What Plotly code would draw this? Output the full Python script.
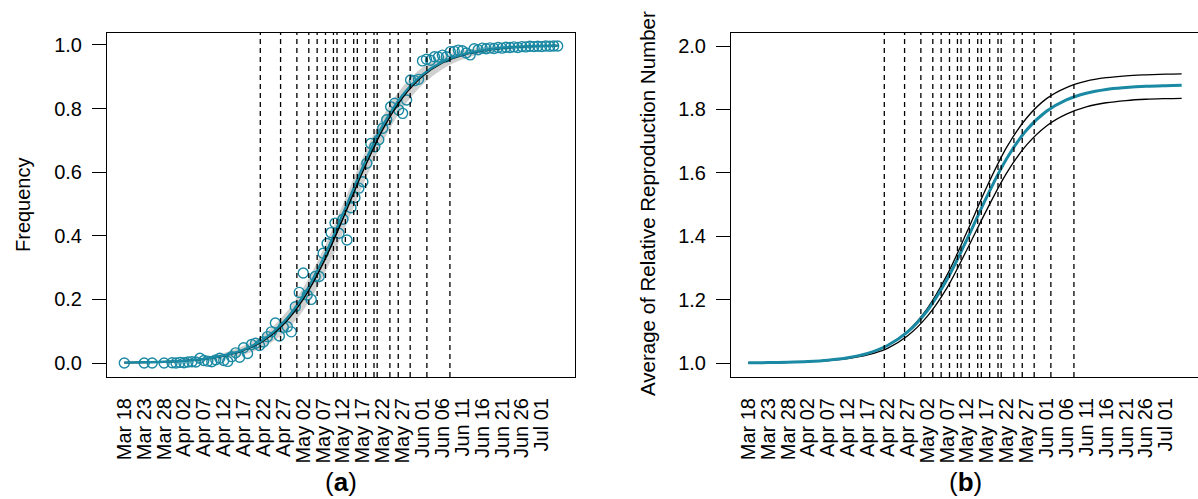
import plotly.graph_objects as go

W, H = 1198, 499
TEAL = "#1a89a3"

# ---- data (days since Mar 18) ----
tick_days = [0, 5, 10, 15, 20, 25, 30, 35, 40, 45, 50, 55, 60, 65, 70, 75, 80, 85, 90, 95, 100, 105]
tick_labels = ["Mar 18", "Mar 23", "Mar 28", "Apr 02", "Apr 07", "Apr 12", "Apr 17", "Apr 22",
               "Apr 27", "May 02", "May 07", "May 12", "May 17", "May 22", "May 27", "Jun 01",
               "Jun 06", "Jun 11", "Jun 16", "Jun 21", "Jun 26", "Jul 01"]

vline_days = [34.2, 39.3, 43.4, 46.4, 48.5, 50.6, 52.6, 53.5, 55.6, 57.7, 58.6, 60.7,
              62.8, 63.6, 66.8, 68.9, 71.9, 76.1, 81.9]

obs_days = [0, 5, 7, 10] + list(range(12, 110))
obs_freq = [0.000, 0.000, 0.000, 0.000,
            0.001, 0.000, 0.002, 0.001, 0.003, 0.004, 0.003, 0.015, 0.008, 0.006,
            0.004, 0.010, 0.015, 0.008, 0.005, 0.020, 0.032, 0.018, 0.048, 0.030,
            0.058, 0.062, 0.055, 0.066, 0.083, 0.098, 0.126, 0.085, 0.112, 0.114,
            0.098, 0.177, 0.222, 0.283, 0.214, 0.200, 0.272, 0.272, 0.345, 0.376,
            0.410, 0.440, 0.408, 0.452, 0.387, 0.488, 0.520, 0.550, 0.570, 0.628,
            0.690, 0.680, 0.702, 0.738, 0.765, 0.806, 0.817, 0.796, 0.785, 0.827,
            0.890, 0.888, 0.892, 0.950, 0.955, 0.952, 0.963, 0.962, 0.968, 0.963,
            0.979, 0.980, 0.984, 0.982, 0.975, 0.969, 0.988, 0.985, 0.990, 0.988,
            0.991, 0.989, 0.992, 0.990, 0.993, 0.992, 0.994, 0.992, 0.995, 0.994,
            0.996, 0.995, 0.996, 0.995, 0.997, 0.996, 0.997, 0.997]

curve_days = [0, 5, 10, 15, 20, 25, 30, 35, 40, 45, 50, 55, 60, 65, 70, 75, 80, 85, 90, 95, 100, 105, 109]
fit_black = [0.0011, 0.0021, 0.0038, 0.0068, 0.0124, 0.0223, 0.040, 0.070, 0.121, 0.201, 0.314, 0.455,
             0.603, 0.735, 0.835, 0.902, 0.944, 0.968, 0.982, 0.990, 0.9946, 0.997, 0.998]
fit_teal = [0.0012, 0.0022, 0.0040, 0.0072, 0.0131, 0.0236, 0.042, 0.074, 0.128, 0.211, 0.328, 0.470,
            0.617, 0.747, 0.843, 0.907, 0.947, 0.970, 0.983, 0.991, 0.995, 0.997, 0.998]
band_lo = [0.0001, 0.0001, 0.0008, 0.0028, 0.0064, 0.0133, 0.026, 0.050, 0.093, 0.165, 0.272, 0.410,
           0.559, 0.695, 0.801, 0.875, 0.924, 0.954, 0.973, 0.984, 0.9906, 0.994, 0.996]
band_hi = [0.0021, 0.0041, 0.0068, 0.0108, 0.0184, 0.0313, 0.054, 0.090, 0.149, 0.237, 0.356, 0.500,
           0.647, 0.775, 0.869, 0.929, 0.964, 0.982, 0.991, 0.996, 0.9986, 1.000, 1.000]

r_mean = [1.0008, 1.0014, 1.0026, 1.0049, 1.0090, 1.0167, 1.0306, 1.0553, 1.0973, 1.165, 1.264, 1.390,
          1.525, 1.645, 1.735, 1.794, 1.830, 1.851, 1.863, 1.869, 1.873, 1.875, 1.876]
r_upper = [1.0007, 1.0013, 1.0025, 1.0047, 1.0088, 1.0164, 1.0304, 1.0559, 1.0995, 1.172, 1.278, 1.414,
           1.556, 1.681, 1.773, 1.834, 1.869, 1.889, 1.900, 1.906, 1.909, 1.911, 1.912]
r_lower = [1.0007, 1.0012, 1.0023, 1.0042, 1.0076, 1.0141, 1.0255, 1.0462, 1.085, 1.147, 1.238, 1.358,
           1.484, 1.600, 1.688, 1.748, 1.785, 1.808, 1.821, 1.828, 1.832, 1.834, 1.835]

y1_ticks = [0.0, 0.2, 0.4, 0.6, 0.8, 1.0]
y2_ticks = [1.0, 1.2, 1.4, 1.6, 1.8, 2.0]

FONT = "Liberation Sans, Arial, Helvetica, sans-serif"

fig = go.Figure()

# left panel
fig.add_trace(go.Scatter(x=curve_days, y=band_lo, mode="lines", line=dict(width=0, shape="spline"),
                         hoverinfo="skip", showlegend=False, xaxis="x", yaxis="y"))
fig.add_trace(go.Scatter(x=curve_days, y=band_hi, mode="lines", line=dict(width=0, shape="spline"),
                         fill="tonexty", fillcolor="rgb(208,208,208)",
                         hoverinfo="skip", showlegend=False, xaxis="x", yaxis="y"))
fig.add_trace(go.Scatter(x=obs_days, y=obs_freq, mode="markers",
                         marker=dict(symbol="circle-open", size=10, color=TEAL, line=dict(width=1.4, color=TEAL)),
                         showlegend=False, xaxis="x", yaxis="y"))
fig.add_trace(go.Scatter(x=curve_days, y=fit_black, mode="lines", line=dict(color="black", width=1.6, shape="spline"),
                         showlegend=False, xaxis="x", yaxis="y"))
fig.add_trace(go.Scatter(x=curve_days, y=fit_teal, mode="lines", line=dict(color=TEAL, width=2.4, shape="spline"),
                         showlegend=False, xaxis="x", yaxis="y"))

# right panel
fig.add_trace(go.Scatter(x=curve_days, y=r_upper, mode="lines", line=dict(color="black", width=1.3, shape="spline"),
                         showlegend=False, xaxis="x2", yaxis="y2"))
fig.add_trace(go.Scatter(x=curve_days, y=r_lower, mode="lines", line=dict(color="black", width=1.3, shape="spline"),
                         showlegend=False, xaxis="x2", yaxis="y2"))
fig.add_trace(go.Scatter(x=curve_days, y=r_mean, mode="lines", line=dict(color=TEAL, width=3, shape="spline"),
                         showlegend=False, xaxis="x2", yaxis="y2"))

shapes = []
for xr, yr in (("x", "y domain"), ("x2", "y2 domain")):
    for d in vline_days:
        shapes.append(dict(type="line", xref=xr, yref=yr, x0=d, x1=d, y0=0, y1=1,
                           line=dict(color="black", width=1.3, dash="5px,4px"), layer="above"))

ydom = [1 - 377 / H, 1 - 33 / H]
day_px = 468 / 117.72
xr2_end = -4.36 + (W - 731) / day_px

common_x = dict(tickmode="array", tickvals=tick_days, ticktext=tick_labels, tickangle=-90,
                showgrid=False, zeroline=False, showline=True, linecolor="black", linewidth=1,
                ticks="", ticklabelstandoff=12, tickfont=dict(size=20, color="black", family=FONT))
common_y = dict(showgrid=False, zeroline=False, showline=True, linecolor="black", linewidth=1,
                ticks="outside", ticklen=14, tickwidth=1, tickcolor="black", ticklabelstandoff=6,
                tickfont=dict(size=20, color="black", family=FONT))

fig.update_layout(
    width=W, height=H,
    margin=dict(l=0, r=0, t=0, b=0),
    paper_bgcolor="white", plot_bgcolor="white",
    font=dict(family=FONT, color="black"),
    xaxis=dict(domain=[107 / W, 575 / W], range=[-4.36, 113.36], mirror=True, anchor="y", **common_x),
    yaxis=dict(domain=ydom, range=[-0.044, 1.0377], tickvals=y1_ticks,
               ticktext=[f"{v:.1f}" for v in y1_ticks], mirror=True, anchor="x", **common_y),
    xaxis2=dict(domain=[731 / W, 1.0], range=[-4.36, xr2_end], mirror=True, anchor="y2", **common_x),
    yaxis2=dict(domain=ydom, range=[0.956, 2.041], tickvals=y2_ticks,
                ticktext=[f"{v:.1f}" for v in y2_ticks], mirror=False, anchor="x2", **common_y),
    shapes=shapes,
    annotations=[
        dict(text="Frequency", xref="paper", yref="paper", x=23 / W, y=1 - 205 / H, showarrow=False,
             textangle=-90, font=dict(size=20, family=FONT), xanchor="center", yanchor="middle"),
        dict(text="Average of Relative Reproduction Number", xref="paper", yref="paper", x=647 / W, y=1 - 203 / H,
             showarrow=False, textangle=-90, font=dict(size=20.5, family=FONT), xanchor="center", yanchor="middle"),
        dict(text="(<b>a</b>)", xref="paper", yref="paper", x=341 / W, y=1 - 482 / H, showarrow=False,
             font=dict(size=26, family=FONT), xanchor="center", yanchor="middle"),
        dict(text="(<b>b</b>)", xref="paper", yref="paper", x=965 / W, y=1 - 482 / H, showarrow=False,
             font=dict(size=26, family=FONT), xanchor="center", yanchor="middle"),
    ],
)

fig.write_html("out.html")
